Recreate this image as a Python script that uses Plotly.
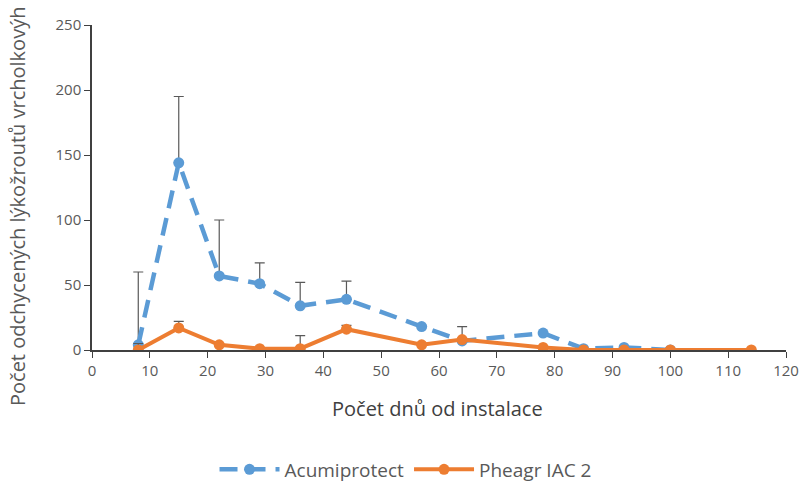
import plotly.graph_objects as go

days_a = [8, 15, 22, 29, 36, 44, 57, 64, 78, 85, 92, 100]
acumi = [4, 144, 57, 51, 34, 39, 18, 7, 13, 1, 2, 0]
acumi_err = [56, 51, 43, 16, 18, 14, 0, 11, 0, 0, 0, 0]

days_p = [8, 15, 22, 29, 36, 44, 57, 64, 78, 85, 92, 100, 114]
pheagr = [0, 17, 4, 1, 1, 16, 4, 8, 2, 0, 0, 0, 0]
pheagr_err = [5, 5, 0, 0, 10, 3, 0, 0, 0, 0, 0, 0, 0]

x_ticks = list(range(0, 121, 10))
y_ticks = list(range(0, 251, 50))

blue = "#5B9BD5"
orange = "#ED7D31"
err_col = "#595959"

fig = go.Figure()
fig.add_trace(go.Scatter(
    x=days_a, y=acumi, name="Acumiprotect", mode="lines+markers",
    line=dict(color=blue, width=4.5, dash="18px,10px"),
    marker=dict(color=blue, size=11),
    error_y=dict(type="data", symmetric=False, array=acumi_err, arrayminus=[0]*len(acumi_err),
                 color=err_col, thickness=1.2, width=5),
))
fig.add_trace(go.Scatter(
    x=days_p, y=pheagr, name="Pheagr IAC 2", mode="lines+markers",
    line=dict(color=orange, width=4),
    marker=dict(color=orange, size=11),
    error_y=dict(type="data", symmetric=False, array=pheagr_err, arrayminus=[0]*len(pheagr_err),
                 color=err_col, thickness=1.2, width=5),
))

fig.add_annotation(
    text="Počet odchycených lýkožroutů vrcholkovýh",
    xref="paper", yref="paper", x=(17 - 92) / 694, y=(350 - 207) / 325,
    xanchor="center", yanchor="middle", textangle=-90, showarrow=False,
    font=dict(size=20, color="#595959"),
)
fig.add_annotation(
    text="Počet dnů od instalace",
    xref="paper", yref="paper", x=(437 - 92) / 694, y=(350 - 409) / 325,
    xanchor="center", yanchor="middle", showarrow=False,
    font=dict(size=20, color="#404040"),
)

fig.update_layout(
    width=803, height=484,
    margin=dict(l=92, r=17, t=25, b=134, autoexpand=False),
    paper_bgcolor="white", plot_bgcolor="white",
    font=dict(family="Open Sans, Noto Sans, sans-serif", color="#595959", size=15),
    showlegend=True,
    legend=dict(orientation="h", x=0.505, xref="container", xanchor="center",
                y=0.03, yref="container", yanchor="middle",
                font=dict(size=19, color="#595959"), itemwidth=60),
    xaxis=dict(range=[0, 120], tickvals=x_ticks, ticks="outside", ticklen=6,
               tickcolor="#404040", showline=True, linecolor="#404040", linewidth=1.5,
               showgrid=False, zeroline=False, tickfont=dict(size=15)),
    yaxis=dict(range=[0, 250], tickvals=y_ticks, ticks="outside", ticklen=6,
               tickcolor="#404040", showline=True, linecolor="#404040", linewidth=1.5,
               showgrid=False, zeroline=False, tickfont=dict(size=15)),
)

fig.write_html("out.html")
